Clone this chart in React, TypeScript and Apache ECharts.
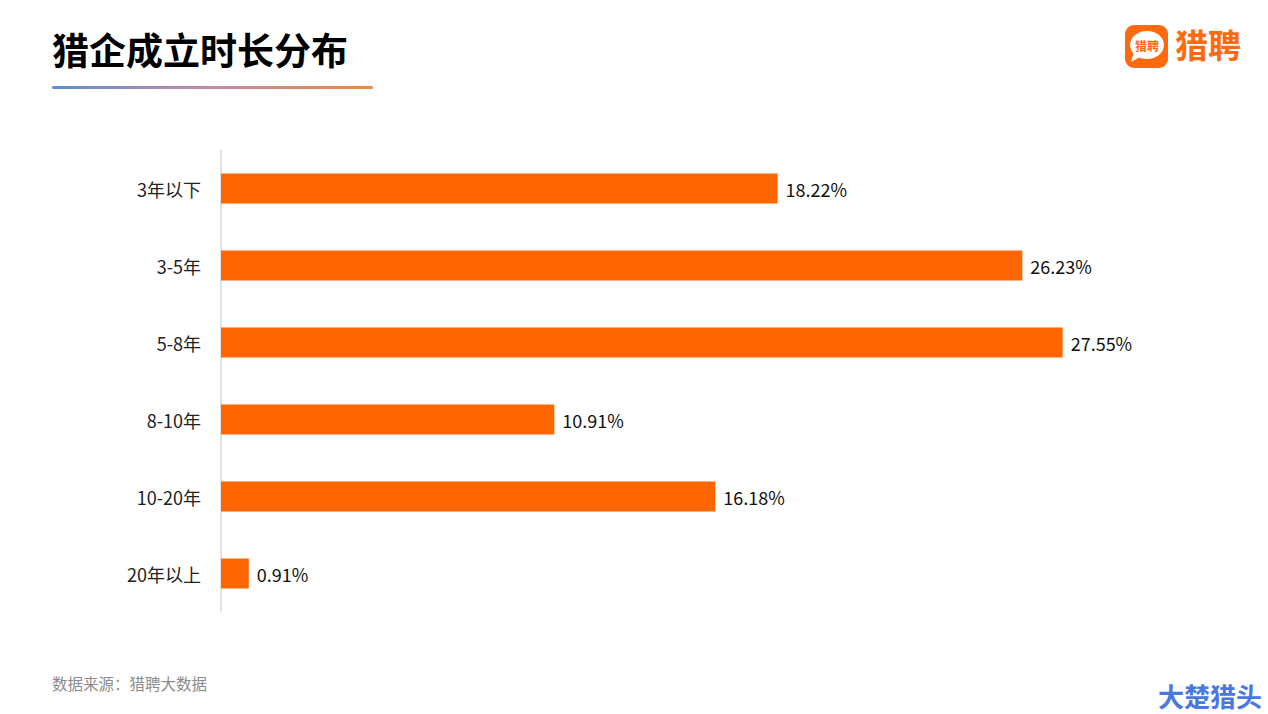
import React, { useEffect, useRef } from "react";
import * as echarts from "echarts";

const categories = ["3年以下", "3-5年", "5-8年", "8-10年", "10-20年", "20年以上"];
const values = [18.22, 26.23, 27.55, 10.91, 16.18, 0.91];
const titleText = "猎企成立时长分布";
const sourceText = "数据来源：猎聘大数据";
const brandText = "猎聘";
const watermarkText = "大楚猎头";

const FONT = "'Noto Sans CJK SC', 'Noto Sans', sans-serif";

export default function App() {
  const ref = useRef<HTMLDivElement>(null);
  useEffect(() => {
    if (!ref.current) return;
    const chart = echarts.init(ref.current, null, { renderer: "svg" });
    chart.setOption({
      animation: false,
      backgroundColor: "#ffffff",
      textStyle: { fontFamily: FONT },
      grid: { left: 221, top: 150, width: 916.5, height: 462, containLabel: false },
      xAxis: {
        type: "value",
        min: 0,
        max: 30,
        show: false,
      },
      yAxis: {
        type: "category",
        data: categories,
        inverse: true,
        axisLine: { show: true, lineStyle: { color: "#d9d9d9", width: 1.5 } },
        axisTick: { show: false },
        axisLabel: { color: "#222222", fontSize: 18, margin: 20, fontFamily: FONT },
        splitLine: { show: false },
      },
      series: [
        {
          type: "bar",
          data: values,
          barWidth: 30,
          itemStyle: { color: "#FF6600" },
          label: {
            show: true,
            position: "right",
            distance: 8,
            formatter: (p: any) => p.value.toFixed(2) + "%",
            color: "#111111",
            fontSize: 18,
            fontFamily: FONT,
          },
        },
      ],
      graphic: [
        {
          type: "text",
          left: 52,
          top: 30,
          style: { text: titleText, fontSize: 37, fontWeight: "bold", fill: "#000000", fontFamily: FONT },
        },
        {
          type: "rect",
          shape: { x: 52, y: 86, width: 321, height: 3, r: 1.5 },
          style: {
            fill: new echarts.graphic.LinearGradient(0, 0, 1, 0, [
              { offset: 0, color: "#5b8fd6" },
              { offset: 0.5, color: "#c98aa8" },
              { offset: 1, color: "#f08a3c" },
            ]),
          },
        },
        {
          type: "rect",
          shape: { x: 1125, y: 25, width: 43, height: 43, r: 9 },
          style: { fill: "#FF6A0F" },
        },
        {
          type: "ellipse",
          shape: { cx: 1147, cy: 45, rx: 17, ry: 14 },
          style: { fill: "#ffffff" },
        },
        {
          type: "polygon",
          shape: { points: [[1134, 52], [1131, 62], [1142, 56]] },
          style: { fill: "#ffffff" },
        },
        {
          type: "text",
          x: 1147,
          y: 45,
          style: { text: brandText, fontSize: 12, fontWeight: "bold", fill: "#FF6A0F", align: "center", verticalAlign: "middle", fontFamily: FONT },
        },
        {
          type: "text",
          left: 1175,
          top: 27,
          style: { text: brandText, fontSize: 33, fontWeight: "bold", fill: "#FF6A0F", fontFamily: FONT },
        },
        {
          type: "text",
          left: 52,
          top: 675,
          style: { text: sourceText, fontSize: 15.5, fill: "#8c8c8c", fontFamily: FONT },
        },
        {
          type: "text",
          left: 1158,
          top: 682,
          style: { text: watermarkText, fontSize: 26, fontWeight: "bold", fill: "#4a78e0", fontFamily: FONT },
        },
      ],
    });
    return () => chart.dispose();
  }, []);
  return (
    <div
      ref={ref}
      style={{ position: "fixed", left: 0, top: 0, width: 1268, height: 714, background: "#fff" }}
    />
  );
}
